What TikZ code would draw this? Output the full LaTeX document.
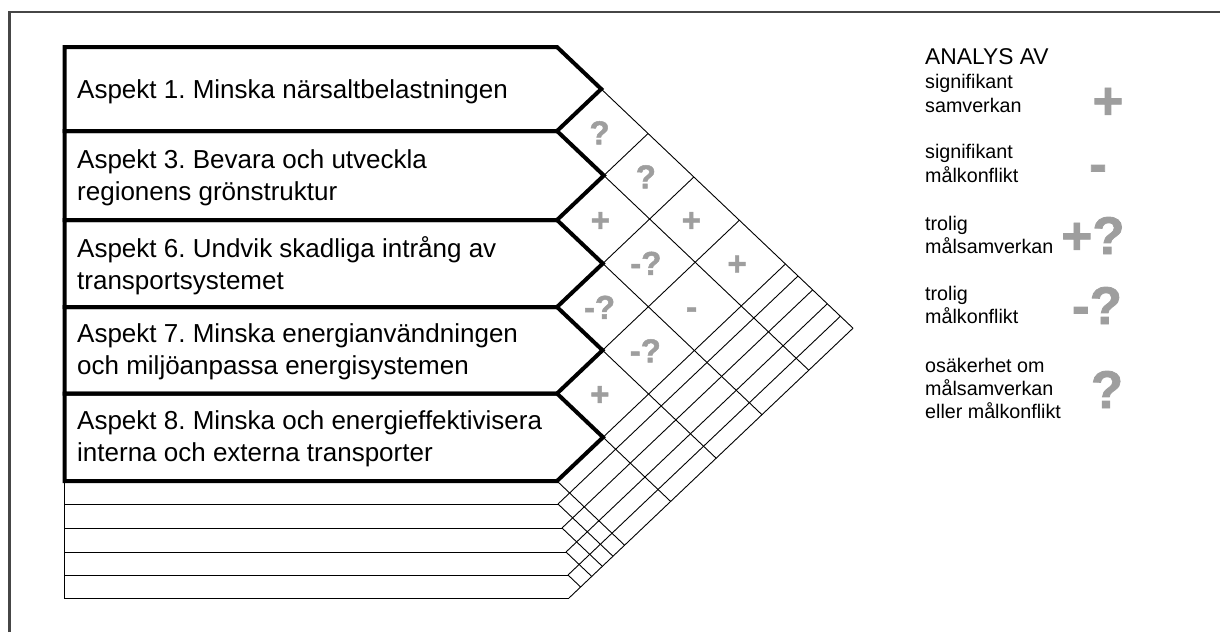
\documentclass[tikz,border=0pt]{standalone}
\usepackage{fontspec}
\setmainfont{Liberation Sans}[BoldFont={Liberation Sans Bold}]
\newfontfamily\symfont{Liberation Sans Bold}[FakeBold=1.5]
\definecolor{symgray}{RGB}{158,158,158}
\definecolor{framegray}{RGB}{70,70,70}
\frenchspacing
\begin{document}
\begin{tikzpicture}[x=1pt,y=-1pt,
  framelines/.style={draw=framegray,line width=2.6pt},
  gridline/.style={draw=black,line width=0.9pt},
  rowbox/.style={draw=black,line width=4pt,line join=miter},
  aspect/.style={anchor=west,align=left,inner sep=0pt,
    font=\fontsize{26}{32}\selectfont},
  leghead/.style={anchor=base west,inner sep=0pt,
    font=\fontsize{22.8}{27}\selectfont},
  legtext/.style={anchor=base west,inner sep=0pt,
    font=\fontsize{19.7}{23.5}\selectfont},
  cellsym/.style={anchor=base,inner sep=0pt,text=symgray,
    font=\symfont\fontsize{33}{33}\selectfont},
  legsym/.style={anchor=base,inner sep=0pt,text=symgray,
    font=\symfont\fontsize{53}{53}\selectfont}]

\useasboundingbox (0,0) rectangle (1220,632);

% open frame: left and top edges only
\draw[framelines] (9.3,632) -- (9.3,12) -- (1220,12);

% triangular correlation grid: from every row boundary (y, start x) one
% line runs down-right to the lower outer edge and one runs up-right to
% the upper outer edge (slope 0.95)
\foreach \b/\xb in {47/557,131/557,220/557,307/557,393.5/557,481/557,
                    504/558,528/562,552/566,575/568,598/569}{
  \pgfmathsetmacro\xse{(\xb+569)/2+(598-\b)/1.9}
  \pgfmathsetmacro\yse{\b+0.95*(\xse-\xb)}
  \pgfmathsetmacro\xne{(557+\xb)/2+(\b-47)/1.9}
  \pgfmathsetmacro\yne{47+0.95*(\xne-557)}
  \draw[gridline] (\xb,\b) -- (\xse,\yse);
  \draw[gridline] (\xb,\b) -- (\xne,\yne);
}

% unlabelled thin rows below the aspects
\draw[gridline] (64,481) -- (64,598);
\foreach \b/\xb in {504/558,528/562,552/566,575/568,598/569}{
  \draw[gridline] (64,\b) -- (\xb,\b);
}

% thick arrow-shaped rows for the aspects
\foreach \t/\b in {47/131,131/220,220/307,307/393.5,393.5/481}{
  \draw[rowbox] (64.5,\t) -- (557,\t) -- ({557+(\b-\t)/1.9},{(\t+\b)/2})
    -- (557,\b) -- (64.5,\b) -- cycle;
}

\node[aspect] (a1) at (77,91.5) {Aspekt 1. Minska närsaltbelastningen};
\node[aspect] (a3) at (77,177.5) {Aspekt 3. Bevara och utveckla\\regionens grönstruktur};
\node[aspect] (a6) at (77,265.5) {Aspekt 6. Undvik skadliga intrång av\\transportsystemet};
\node[aspect] (a7) at (77,352) {Aspekt 7. Minska energianvändningen\\och miljöanpassa energisystemen};
\node[aspect] (a8) at (77,439) {Aspekt 8. Minska och energieffektivisera\\interna och externa transporter};

% assessments in the diamond cells (row i against row j)
\foreach \i/\j/\s in {1/2/?,1/3/?,2/3/+,1/4/+,2/4/-?,1/5/+,3/4/-?,2/5/-,3/5/-?,4/5/+}{
  \pgfmathsetmacro\mi{{89,175.5,263.5,350,437}[\i-1]}
  \pgfmathsetmacro\mj{{89,175.5,263.5,350,437}[\j-1]}
  \node[cellsym] (c\i\j) at ({557+(\mj-\mi)/1.9-3},{(\mi+\mj)/2+12}) {\s};
}

% legend
\node[leghead] (lh) at (925,64) {ANALYS AV};
\node[legtext] (l1a) at (925,88) {signifikant};
\node[legtext] (l1b) at (925,112) {samverkan};
\node[legtext] (l2a) at (925,158) {signifikant};
\node[legtext] (l2b) at (925,182) {målkonflikt};
\node[legtext] (l3a) at (925,230) {trolig};
\node[legtext] (l3b) at (925,253) {målsamverkan};
\node[legtext] (l4a) at (925,300) {trolig};
\node[legtext] (l4b) at (925,323) {målkonflikt};
\node[legtext] (l5a) at (925,372) {osäkerhet om};
\node[legtext] (l5b) at (925,395) {målsamverkan};
\node[legtext] (l5c) at (925,418) {eller målkonflikt};

\node[legsym] (s1) at (1108,119) {+};
\node[legsym] (s2) at (1098,182) {-};
\node[legsym] (s3) at (1093,254) {+?};
\node[legsym] (s4) at (1097,324) {-?};
\node[legsym] (s5) at (1107,408) {?};
\end{tikzpicture}
\end{document}
